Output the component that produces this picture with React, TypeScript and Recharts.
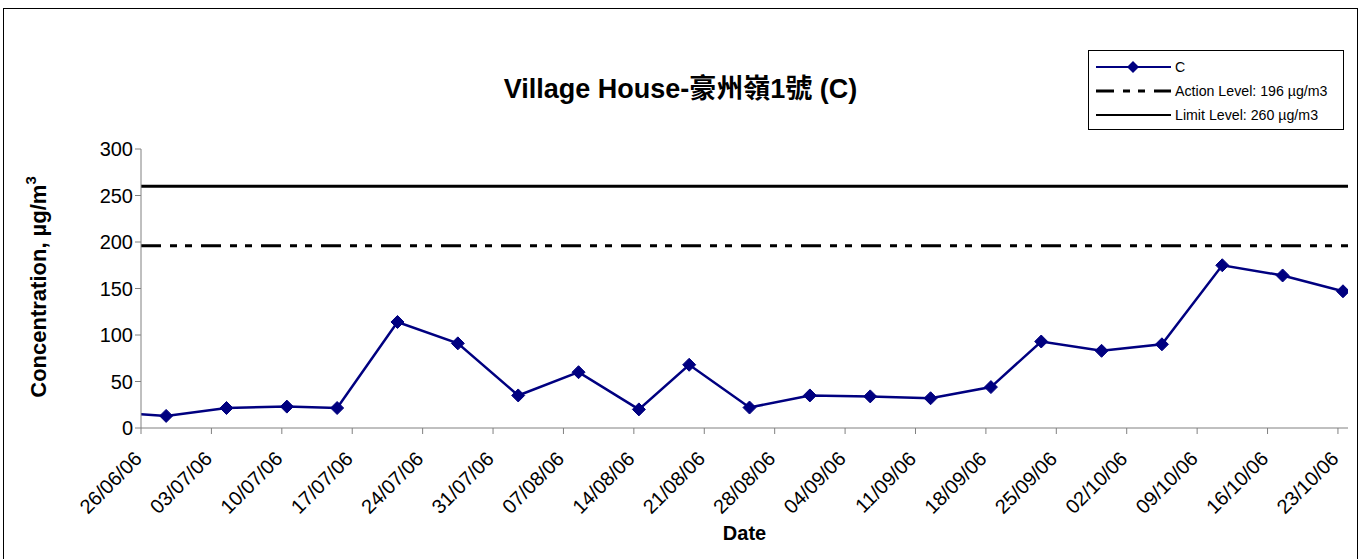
import React from 'react';
import { LineChart, Line, XAxis, YAxis, ReferenceLine } from 'recharts';

const sampleDates = [
  '22/06/06', '28/06/06', '04/07/06', '10/07/06', '15/07/06', '21/07/06', '27/07/06',
  '02/08/06', '08/08/06', '14/08/06', '19/08/06', '25/08/06', '31/08/06', '06/09/06',
  '12/09/06', '18/09/06', '23/09/06', '29/09/06', '05/10/06', '11/10/06', '17/10/06',
  '23/10/06',
];
const concentration = [
  17, 13, 21.5, 23, 21.5, 114, 91, 35, 60, 20, 68, 22, 35, 34, 32, 44, 93, 83, 90, 175, 164, 147,
];
const tickLabels = [
  '26/06/06', '03/07/06', '10/07/06', '17/07/06', '24/07/06', '31/07/06', '07/08/06',
  '14/08/06', '21/08/06', '28/08/06', '04/09/06', '11/09/06', '18/09/06', '25/09/06',
  '02/10/06', '09/10/06', '16/10/06', '23/10/06',
];
const yTicks = [0, 50, 100, 150, 200, 250, 300];
const ACTION_LEVEL = 196;
const LIMIT_LEVEL = 260;

const FONT = "'Liberation Sans', Arial, 'Noto Sans CJK TC', sans-serif";
const NAVY = '#000080';
const ACTION_DASH = '20 9 7 8 7 9';

const toDay = (s: string) => {
  const [d, m, y] = s.split('/').map(Number);
  return Date.UTC(2000 + y, m - 1, d) / 86400000;
};
const startDay = toDay(tickLabels[0]);

// points sit in the middle of their day slot (excel date axis)
const data = sampleDates.map((d, i) => ({ x: toDay(d) - startDay + 0.5, value: concentration[i] }));
const xTicks = tickLabels.map((t) => toDay(t) - startDay);
const labelFor = (v: number) => tickLabels[xTicks.indexOf(v)] ?? '';

const Diamond = (props: any) => {
  const { cx, cy, index } = props;
  if (cx == null || cy == null) return <g key={`d-${index}`} />;
  const r = 6.5;
  return (
    <path
      key={`d-${index}`}
      d={`M${cx},${cy - r}L${cx + r},${cy}L${cx},${cy + r}L${cx - r},${cy}Z`}
      fill={NAVY}
      stroke={NAVY}
    />
  );
};

const DateTick = ({ x, y, payload }: any) => (
  <text
    x={x + 2}
    y={y + 24}
    transform={`rotate(-45, ${x + 2}, ${y + 24})`}
    textAnchor="end"
    fontSize={20}
    fontFamily={FONT}
    fill="#000"
  >
    {labelFor(payload.value)}
  </text>
);

const YLabel = () => (
  <text
    x={46}
    y={287}
    transform="rotate(-90, 46, 287)"
    textAnchor="middle"
    fontSize={22}
    fontWeight="bold"
    fontFamily={FONT}
    fill="#000"
  >
    Concentration, µg/m
    <tspan dy={-10} fontSize={15}>3</tspan>
  </text>
);

const LegendBox = () => (
  <div
    style={{
      border: '1px solid #000',
      width: 256,
      height: 80,
      background: '#fff',
      fontFamily: FONT,
      fontSize: 14.2,
      boxSizing: 'border-box',
      paddingTop: 4,
    }}
  >
    {[
      { label: 'C', kind: 'c' },
      { label: `Action Level: ${ACTION_LEVEL} µg/m3`, kind: 'a' },
      { label: `Limit Level: ${LIMIT_LEVEL} µg/m3`, kind: 'l' },
    ].map((e) => (
      <div key={e.kind} style={{ display: 'flex', alignItems: 'center', height: 24 }}>
        <svg width={86} height={14} style={{ flexShrink: 0 }}>
          {e.kind === 'c' && (
            <>
              <line x1={7} y1={7} x2={82} y2={7} stroke={NAVY} strokeWidth={2} />
              <path d="M44,1L50,7L44,13L38,7Z" fill={NAVY} />
            </>
          )}
          {e.kind === 'a' && (
            <line x1={7} y1={7} x2={82} y2={7} stroke="#000" strokeWidth={3} strokeDasharray="18 9 7 8 7 9 18" />
          )}
          {e.kind === 'l' && <line x1={7} y1={7} x2={82} y2={7} stroke="#000" strokeWidth={2} />}
        </svg>
        <span>{e.label}</span>
      </div>
    ))}
  </div>
);

export default function App() {
  return (
    <div style={{ position: 'absolute', left: 0, top: 0, width: 1361, height: 559, overflow: 'hidden', background: '#fff' }}>
      <div
        style={{
          position: 'absolute',
          left: 3,
          top: 8,
          width: 1353,
          height: 600,
          border: '1px solid #000',
        }}
      />
      <div
        style={{
          position: 'absolute',
          left: 3,
          width: 1355,
          top: 67,
          textAlign: 'center',
          fontFamily: FONT,
          fontWeight: 'bold',
          fontSize: 27,
        }}
      >
        Village House-豪州嶺1號 (C)
      </div>
      <div style={{ position: 'absolute', left: 0, top: 0 }}>
        <LineChart width={1361} height={559} data={data} margin={{ top: 149, right: 13, bottom: 31, left: 81 }}>
          <XAxis
            type="number"
            dataKey="x"
            domain={[0, 120]}
            ticks={xTicks}
            allowDataOverflow
            interval={0}
            height={100}
            stroke="#808080"
            tickSize={6}
            tick={<DateTick />}
            label={{
              value: 'Date',
              position: 'insideBottom',
              offset: -12,
              fontSize: 20,
              fontWeight: 'bold',
              fontFamily: FONT,
              fill: '#000',
            }}
          />
          <YAxis
            domain={[0, 300]}
            ticks={yTicks}
            allowDataOverflow
            width={60}
            stroke="#808080"
            tickSize={6}
            tick={{ fontSize: 20, fontFamily: FONT, fill: '#000' }}
            label={<YLabel />}
          />
          <ReferenceLine y={LIMIT_LEVEL} stroke="#000" strokeWidth={3} />
          <ReferenceLine y={ACTION_LEVEL} stroke="#000" strokeWidth={3} strokeDasharray={ACTION_DASH} />
          <Line
            dataKey="value"
            stroke={NAVY}
            strokeWidth={2.5}
            dot={<Diamond />}
            activeDot={false}
            isAnimationActive={false}
          />
        </LineChart>
      </div>
      <div style={{ position: 'absolute', left: 1088, top: 50 }}>
        <LegendBox />
      </div>
    </div>
  );
}
